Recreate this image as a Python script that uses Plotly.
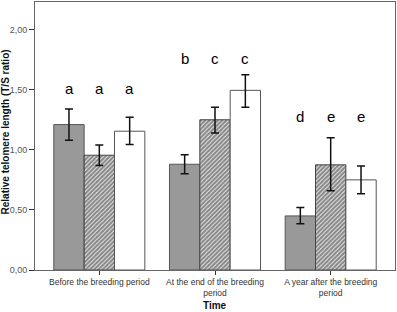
import plotly.graph_objects as go

categories = ["Before the breeding period", "At the end of the breeding<br>period", "A year after the breeding<br>period"]
cat_pos = [0, 1, 2]
y_ticks = [0, 0.5, 1.0, 1.5, 2.0]
y_tick_labels = ["0,00", "0,50", "1,00", "1,50", "2,00"]

grp1_vals = [1.21, 0.88, 0.45]
grp1_hi = [1.34, 0.96, 0.52]
grp1_lo = [1.08, 0.80, 0.385]

grp2_vals = [0.955, 1.25, 0.875]
grp2_hi = [1.04, 1.355, 1.10]
grp2_lo = [0.87, 1.14, 0.66]

grp3_vals = [1.155, 1.495, 0.75]
grp3_hi = [1.27, 1.625, 0.865]
grp3_lo = [1.045, 1.355, 0.635]

letters = [["a", "a", "a"], ["b", "c", "c"], ["d", "e", "e"]]
letter_y = [1.51, 1.76, 1.28]

fig = go.Figure()

series = [
    (grp1_vals, grp1_hi, grp1_lo, dict(color="#999999", line=dict(color="#555555", width=1))),
    (grp2_vals, grp2_hi, grp2_lo, dict(color="white", line=dict(color="#444444", width=1),
                                      pattern=dict(shape="/", fgcolor="#111111", bgcolor="white", size=3, solidity=0.75))),
    (grp3_vals, grp3_hi, grp3_lo, dict(color="white", line=dict(color="#555555", width=1))),
]
for vals, hi, lo, marker in series:
    fig.add_trace(go.Bar(
        x=cat_pos, y=vals, marker=marker,
        error_y=dict(type="data", symmetric=False,
                     array=[h - v for h, v in zip(hi, vals)],
                     arrayminus=[v - l for v, l in zip(vals, lo)],
                     color="#111111", thickness=1.5, width=4),
        showlegend=False,
    ))

bar_w = 0.262
for ci, c in enumerate(cat_pos):
    for si in range(3):
        fig.add_annotation(x=c + (si - 1) * bar_w, y=letter_y[ci], text=letters[ci][si],
                           showarrow=False, font=dict(size=15, color="black", family="Liberation Sans"),
                           xref="x", yref="y")

fig.add_annotation(text="<b>Relative telomere length (T/S ratio)</b>", xref="paper", yref="paper",
                   x=-0.082, y=0.515, textangle=-90, showarrow=False, xanchor="center", yanchor="middle",
                   font=dict(size=10, color="#111111", family="Liberation Sans"))
fig.add_annotation(text="<b>Time</b>", xref="paper", yref="paper",
                   x=0.5, y=-0.134, showarrow=False, xanchor="center", yanchor="middle",
                   font=dict(size=10, color="#111111", family="Liberation Sans"))

fig.update_layout(
    width=397, height=312,
    margin=dict(l=35, r=2, t=2, b=42),
    plot_bgcolor="white", paper_bgcolor="white",
    barmode="group", bargap=0.213, bargroupgap=0,
    font=dict(family="Liberation Sans", size=9, color="#333333"),
)
fig.update_xaxes(
    range=[-0.556, 2.556], tickvals=cat_pos, ticktext=categories, automargin=False,
    ticks="outside", ticklen=4, tickcolor="#333333",
    showline=True, linecolor="#666666", mirror=True, showgrid=False,
    tickfont=dict(size=8.5, color="#333333"),
)
fig.update_yaxes(
    range=[0, 2.23], tickvals=y_ticks, ticktext=y_tick_labels, automargin=False,
    ticks="outside", ticklen=5, tickcolor="#333333",
    showline=True, linecolor="#666666", mirror=True, showgrid=False, zeroline=False,
    tickfont=dict(size=9, color="#555555"),
)

fig.write_html("out.html", config={"displayModeBar": False},
               post_script="document.body.style.margin='0';")
